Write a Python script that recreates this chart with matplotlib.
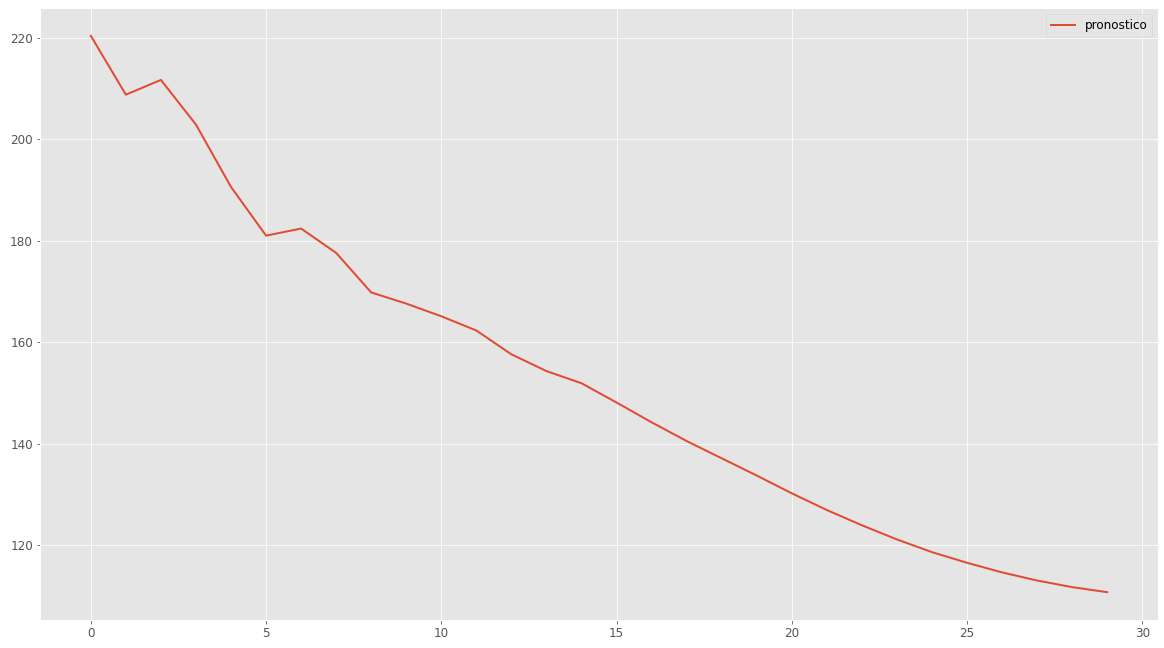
import numpy as np
import matplotlib
matplotlib.use("Agg")
import matplotlib.pyplot as plt

plt.style.use('ggplot')
plt.rcParams['font.size'] = 12

# pronostico values
dias = list(range(30))
pronostico = [220.4, 208.8, 211.7, 202.9, 190.6, 181.0, 182.4, 177.6, 169.8, 167.6,
              165.1, 162.3, 157.6, 154.3, 151.9, 148.1, 144.2, 140.5, 137.1, 133.7,
              130.2, 126.9, 123.9, 121.1, 118.6, 116.5, 114.6, 113.0, 111.7, 110.7]

fig = plt.figure(figsize=(1164/72, 648/72), dpi=72)
ax = fig.add_axes([40/1164, 1-620/648, (1158-40)/1164, (620-8)/648])
ax.plot(dias, pronostico, label='pronostico', lw=2)
ax.tick_params(labelsize=12)
ax.legend(loc='upper right', fontsize=12)

fig.savefig('out.png', dpi=72)
